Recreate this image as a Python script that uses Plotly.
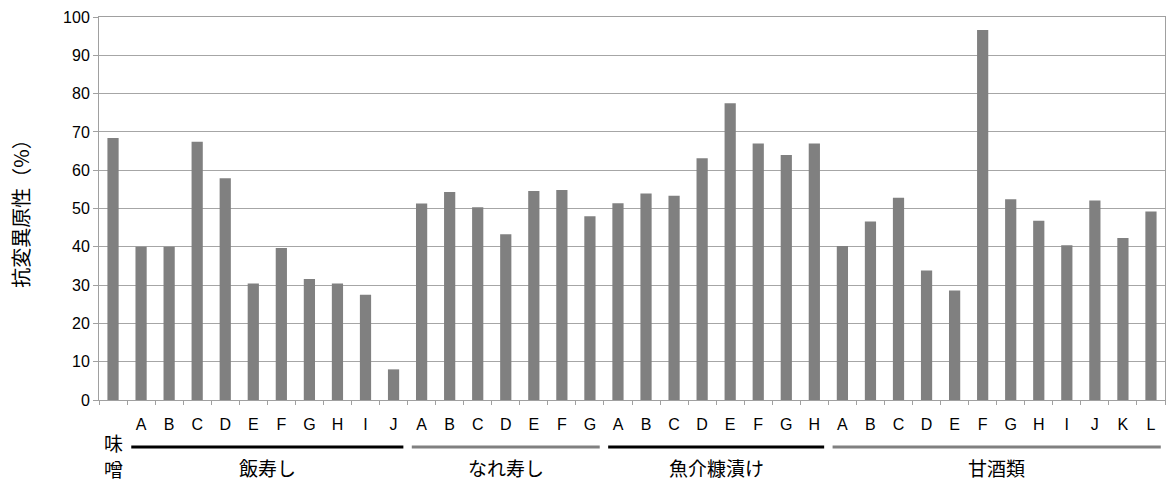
import plotly.graph_objects as go

# ---- data ----
groups = ["味噌", "飯寿し", "なれ寿し", "魚介糠漬け", "甘酒類"]
group_letters = [
    [""],
    ["A", "B", "C", "D", "E", "F", "G", "H", "I", "J"],
    ["A", "B", "C", "D", "E", "F", "G"],
    ["A", "B", "C", "D", "E", "F", "G", "H"],
    ["A", "B", "C", "D", "E", "F", "G", "H", "I", "J", "K", "L"],
]
miso = [68.4]
iizushi = [40.0, 40.0, 67.4, 57.9, 30.4, 39.7, 31.6, 30.4, 27.5, 8.0]
narezushi = [51.3, 54.3, 50.3, 43.3, 54.6, 54.8, 48.0]
nukazuke = [51.4, 53.9, 53.3, 63.1, 77.5, 67.0, 64.0, 67.0]
amazake = [40.2, 46.6, 52.8, 33.8, 28.6, 96.6, 52.4, 46.8, 40.4, 52.1, 42.3, 49.2]
group_values = [miso, iizushi, narezushi, nukazuke, amazake]
line_colors = [None, "#000000", "#808080", "#000000", "#808080"]
y_title = "抗変異原性（%）"

# build category keys
cats, ticktext, vals = [], [], []
for g, letters, v in zip(groups, group_letters, group_values):
    for l, val in zip(letters, v):
        cats.append(f"{g}|{l}")
        ticktext.append(l)
        vals.append(val)

fig = go.Figure(go.Bar(x=cats, y=vals, marker=dict(color="#808080", line=dict(width=0))))

font = "Liberation Sans, Arial, Noto Sans CJK JP, sans-serif"
jfont = "Noto Sans CJK JP, sans-serif"

# group lines & labels
shapes, annotations = [], []
idx = 0
for g, letters, col in zip(groups, group_letters, line_colors):
    n = len(letters)
    start, end = idx - 0.5, idx + n - 0.5
    if col is None:
        # single-item group: label written vertically, one character per line
        for k, ch in enumerate(g):
            annotations.append(dict(x=idx, xref="x", y=-0.111 - 0.067 * k, yref="paper", text=ch,
                                    showarrow=False, yanchor="middle", xanchor="center",
                                    borderpad=0,
                                    font=dict(size=19, color="#000", family=jfont)))
    else:
        shapes.append(dict(type="line", xref="x", yref="paper", x0=start + 0.15, x1=end - 0.15,
                           y0=-0.1226, y1=-0.1226, line=dict(color=col, width=3)))
        annotations.append(dict(x=(start + end) / 2, xref="x", y=-0.175, yref="paper", text=g,
                                showarrow=False, yanchor="middle", xanchor="center",
                                font=dict(size=19, color="#000", family=jfont)))
    idx += n

fig.update_layout(
    width=1169, height=484,
    margin=dict(l=99, r=4, t=17, b=84),
    paper_bgcolor="white", plot_bgcolor="white",
    bargap=0.6, showlegend=False,
    font=dict(family=font, size=16, color="#000"),
    shapes=shapes, annotations=annotations,
    xaxis=dict(type="category", tickmode="array", tickvals=cats, ticktext=ticktext,
               tickson="boundaries", ticks="outside", ticklen=4, tickcolor="#a0a0a0",
               showline=True, linecolor="#a0a0a0", linewidth=1, mirror=True,
               showgrid=False, ticklabelstandoff=10, tickangle=0,
               tickfont=dict(size=16, family=font), range=[-0.5, len(cats) - 0.5]),
    yaxis=dict(range=[0, 100], dtick=10, tick0=0, ticks="outside", ticklen=5, tickcolor="#a0a0a0",
               showline=True, linecolor="#a0a0a0", linewidth=1, mirror=True,
               showgrid=True, gridcolor="#a6a6a6", gridwidth=1, zeroline=False,
               tickfont=dict(size=16, family=font),
               title=dict(text=y_title, font=dict(size=20, family=jfont), standoff=28)),
)

fig.write_html("out.html", config={"displayModeBar": False},
               post_script="document.body.style.margin='0';")
